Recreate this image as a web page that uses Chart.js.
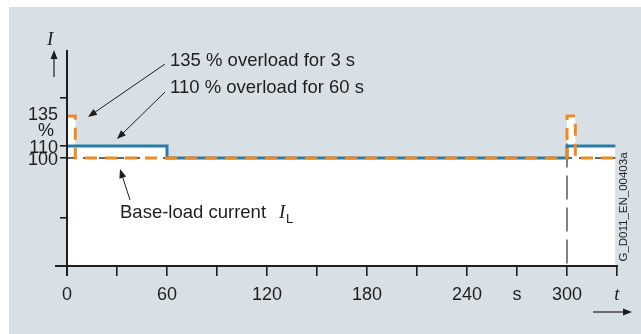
<!DOCTYPE html>
<html>
<head>
<meta charset="utf-8">
<script src="https://cdn.jsdelivr.net/npm/chart.js@4.4.1/dist/chart.umd.min.js"></script>
<style>
  html, body { margin: 0; padding: 0; background: #ffffff; }
  canvas { display: block; }
</style>
</head>
<body>
<canvas id="chart" width="641" height="334"></canvas>
<script>
// === Dados ===
const blueX   = [0, 60, 60, 300, 300, 329];          // 110 % por 60 s
const blueY   = [110, 110, 100, 100, 110, 110];
const orangeX = [0, 5, 5, 300, 300, 305, 305, 329];  // 135 % por 3 s
const orangeY = [135, 135, 100, 100, 135, 135, 100, 100];
const baseX   = [0, 329];                            // corrente base I_L
const baseY   = [100, 100];
const markX   = [300, 300];                          // marca em 300 s
const markY   = [112, 10];

const xTickValues = [0, 30, 60, 90, 120, 150, 180, 210, 240, 270, 300, 330];
const xTickLabels = ['0', '', '60', '', '120', '', '180', '', '240', 's', '300', 't'];
const yTickValues = [50, 100, 110, 150];
const yTickLabels = ['', '100', '110', ''];

// === Cores ===
const BG = '#d8e0e5';
const BLUE = '#2b7aa5';
const ORANGE = '#f08a1e';
const INK = '#1e1e1e';
const SANS = '"Liberation Sans", Arial, sans-serif';
const SERIF = '"Liberation Serif", "Times New Roman", serif';

const pts = (xs, ys) => xs.map((x, i) => ({ x: x, y: ys[i] }));

function arrow(ctx, x1, y1, x2, y2) {
  const a = Math.atan2(y2 - y1, x2 - x1);
  const len = 9, hw = 3.5;
  ctx.beginPath();
  ctx.moveTo(x1, y1);
  ctx.lineTo(x2 - Math.cos(a) * len * 0.8, y2 - Math.sin(a) * len * 0.8);
  ctx.stroke();
  ctx.beginPath();
  ctx.moveTo(x2, y2);
  ctx.lineTo(x2 - Math.cos(a) * len - Math.sin(a) * hw, y2 - Math.sin(a) * len + Math.cos(a) * hw);
  ctx.lineTo(x2 - Math.cos(a) * len + Math.sin(a) * hw, y2 - Math.sin(a) * len - Math.cos(a) * hw);
  ctx.closePath();
  ctx.fill();
}

// fundo cinza e anotações
const decor = {
  id: 'decor',
  beforeDraw(chart) {
    const ctx = chart.ctx;
    ctx.save();
    ctx.fillStyle = '#ffffff';
    ctx.fillRect(0, 0, chart.width, chart.height);
    ctx.fillStyle = BG;
    ctx.fillRect(9, 7, chart.width - 9, chart.height - 7);
    ctx.restore();
  },
  afterDraw(chart) {
    const ctx = chart.ctx;
    const area = chart.chartArea;
    const ys = chart.scales.y;
    ctx.save();
    ctx.strokeStyle = INK;
    ctx.fillStyle = INK;

    // eixos
    ctx.lineWidth = 2;
    ctx.beginPath();
    ctx.moveTo(area.left, area.top);
    ctx.lineTo(area.left, area.bottom + 10);
    ctx.moveTo(area.left - 12, area.bottom);
    ctx.lineTo(area.right + 1, area.bottom);
    ctx.stroke();

    // rótulo 135 %
    ctx.font = '18px ' + SANS;
    ctx.textAlign = 'right';
    ctx.textBaseline = 'alphabetic';
    const y135 = ys.getPixelForValue(135);
    ctx.fillText('135', 58, y135 + 4);
    ctx.textAlign = 'center';
    ctx.fillText('%', 46, y135 + 20);

    // I e seta
    ctx.font = 'italic 19px ' + SERIF;
    ctx.textAlign = 'left';
    ctx.fillText('I', 47, 45);
    ctx.lineWidth = 1.2;
    arrow(ctx, 54, 77, 54, 50);

    // t e seta
    arrow(ctx, 593, 312, 632, 312);

    // textos e setas das sobrecargas
    ctx.font = '18.5px ' + SANS;
    ctx.fillText('135 % overload for 3 s', 170, 66);
    ctx.fillText('110 % overload for 60 s', 170, 93);
    ctx.lineWidth = 1;
    arrow(ctx, 165, 64, 88, 117);
    arrow(ctx, 165, 92, 117, 139);

    // corrente base
    const base = 'Base-load current';
    ctx.fillText(base, 120, 218);
    const w = ctx.measureText(base).width;
    ctx.font = 'italic 19px ' + SERIF;
    ctx.fillText('I', 120 + w + 13, 218);
    ctx.font = '13px ' + SANS;
    ctx.fillText('L', 120 + w + 20, 223);
    arrow(ctx, 130, 200, 120, 169);

    // código da figura
    ctx.translate(624, 207);
    ctx.rotate(-Math.PI / 2);
    ctx.font = '11.5px ' + SANS;
    ctx.textAlign = 'center';
    ctx.textBaseline = 'middle';
    ctx.fillText('G_D011_EN_00403a', 0, 0);
    ctx.restore();
  }
};

new Chart(document.getElementById('chart'), {
  type: 'line',
  data: {
    datasets: [
      {
        label: '135 %',
        data: pts(orangeX, orangeY),
        borderColor: ORANGE,
        borderWidth: 3,
        borderDash: [12, 8],
        backgroundColor: '#ffffff',
        fill: 'start',
        pointRadius: 0,
        order: 0
      },
      {
        label: '110 %',
        data: pts(blueX, blueY),
        borderColor: BLUE,
        borderWidth: 3,
        backgroundColor: '#ffffff',
        fill: 'start',
        pointRadius: 0,
        order: 1
      },
      {
        label: 'I_L',
        data: pts(baseX, baseY),
        borderColor: '#333333',
        borderWidth: 1.3,
        borderDash: [9, 7],
        fill: false,
        pointRadius: 0,
        order: 2
      },
      {
        label: '300 s',
        data: pts(markX, markY),
        borderColor: '#333333',
        borderWidth: 1.2,
        borderDash: [24, 8],
        fill: false,
        pointRadius: 0,
        order: 3
      }
    ]
  },
  options: {
    responsive: false,
    animation: false,
    devicePixelRatio: 1,
    layout: { padding: { left: 0, top: 50, right: 24, bottom: 0 } },
    plugins: {
      legend: { display: false },
      tooltip: { enabled: false },
      filler: { drawTime: 'beforeDatasetsDraw' }
    },
    scales: {
      x: {
        type: 'linear',
        min: 0,
        max: 330,
        afterFit: (s) => { s.height = 68; },
        afterBuildTicks: (s) => { s.ticks = xTickValues.map(v => ({ value: v })); },
        border: { display: false },
        grid: { drawOnChartArea: false, drawTicks: true, tickLength: 10, color: INK, lineWidth: 1.6 },
        ticks: {
          autoSkip: false,
          maxRotation: 0,
          padding: 8,
          color: INK,
          font: (c) => (c.tick && c.tick.value === 330)
            ? { family: SERIF, style: 'italic', size: 19 }
            : { family: SANS, size: 18 },
          callback: (v) => xTickLabels[xTickValues.indexOf(v)]
        }
      },
      y: {
        type: 'linear',
        min: 10,
        max: 190,
        afterFit: (s) => { s.width = 67; },
        afterBuildTicks: (s) => { s.ticks = yTickValues.map(v => ({ value: v })); },
        border: { display: false },
        grid: { drawOnChartArea: false, drawTicks: true, tickLength: 7, color: INK, lineWidth: 1.6 },
        ticks: {
          autoSkip: false,
          padding: 2,
          labelOffset: 2,
          color: INK,
          font: { family: SANS, size: 18 },
          callback: (v) => yTickLabels[yTickValues.indexOf(v)]
        }
      }
    }
  },
  plugins: [decor]
});
</script>
</body>
</html>
